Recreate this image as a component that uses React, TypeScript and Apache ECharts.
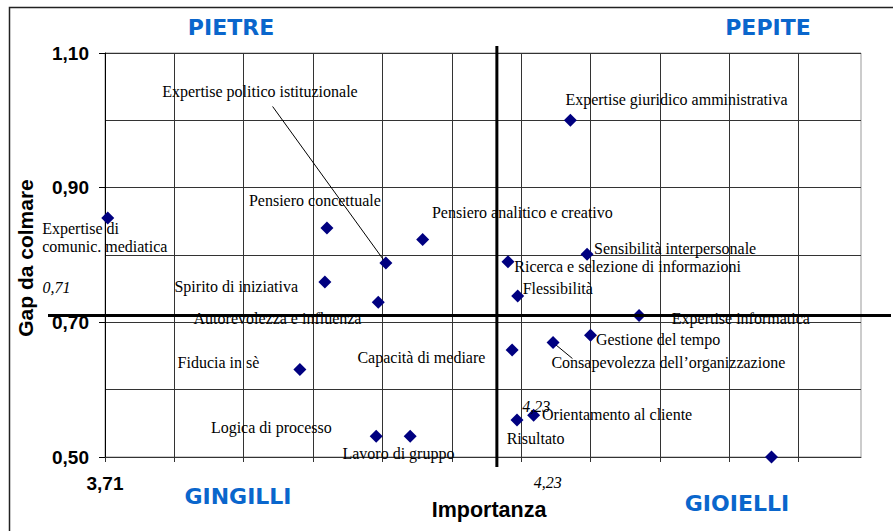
import { useEffect, useRef } from 'react';
import * as echarts from 'echarts';

// ---- data ----
const competencies = [
  'Expertise di\ncomunic. mediatica',
  'Pensiero concettuale',
  'Expertise politico istituzionale',
  'Pensiero analitico e creativo',
  'Expertise giuridico amministrativa',
  'Sensibilità interpersonale',
  'Ricerca e selezione di informazioni',
  'Spirito di iniziativa',
  'Autorevolezza e influenza',
  'Fiducia in sè',
  'Capacità di mediare',
  'Logica di processo',
  'Lavoro di gruppo',
  'Flessibilità',
  'Expertise informatica',
  'Gestione del tempo',
  'Consapevolezza dell\u2019organizzazione',
  'Orientamento al cliente',
  'Risultato',
  '',
];
const importance = [
  3.714, 4.03, 4.115, 4.168, 4.381, 4.405, 4.291, 4.027, 4.104, 3.991,
  4.297, 4.101, 4.15, 4.305, 4.48, 4.41, 4.356, 4.328, 4.304, 4.671,
];
const gap = [
  0.855, 0.84, 0.788, 0.823, 1.0, 0.801, 0.79, 0.76, 0.73, 0.63,
  0.659, 0.531, 0.531, 0.739, 0.71, 0.681, 0.67, 0.562, 0.555, 0.5,
];
const dividerImportance = 4.275; // where the vertical divider is drawn
const dividerGap = 0.71;
const dividerImportanceLabel = '4,23';
const dividerGapLabel = '0,71';
const quadrants = ['PIETRE', 'PEPITE', 'GINGILLI', 'GIOIELLI'];
const xTitle = 'Importanza';
const yTitle = 'Gap da colmare';
const xMin = 3.71;
const xMax = 4.8;
const xStep = 0.1;
const yMin = 0.5;
const yMax = 1.1;
const yStep = 0.2;

// ---- layout (label offsets from each point, px) ----
const labelOffsets: number[][] = [
  [-65.6, 19.2], [-78, -27.3], [-223.7, -171.6], [9.3, -27], [-5, -20.7],
  [7, -6], [6.3, 4.3], [-150.4, 4.3], [-184.7, 16.3], [-122.3, -6.6],
  [-154.7, 7.3], [-165.3, -9], [-67.7, 17.6], [5, -7.7], [32.7, 2.6],
  [5.4, 4.7], [-1.6, 20.4], [8.4, -1], [-10.3, 19], [0, 0],
];
const leaderIdx = [2, 16];
const leaderEnds: number[][] = [[-113.3, -156.6], [19.4, 16]];

const fmt = (v: number) => v.toFixed(2).replace('.', ',');
const BLUE = '#0A66CC';
const SERIF = '"Liberation Serif", "Times New Roman", serif';
const SANS = '"Liberation Sans", Arial, sans-serif';
const QFONT = 'bold 22px "DejaVu Sans", Verdana, sans-serif';

export default function App() {
  const ref = useRef<HTMLDivElement>(null);
  useEffect(() => {
    if (!ref.current) return;
    const chart = echarts.init(ref.current, undefined, { renderer: 'svg' });
    const xTicks: number[] = [];
    for (let v = xMin; v < xMax - 1e-9; v += xStep) xTicks.push(Math.round(v * 1000) / 1000);

    const option: any = {
      animation: false,
      backgroundColor: '#fff',
      grid: { left: 105, top: 53, width: 756, height: 404, show: true, borderColor: '#999', borderWidth: 1 },
      xAxis: {
        type: 'value', min: xMin, max: xMax, interval: xStep,
        axisLine: { show: true, lineStyle: { color: '#333', width: 1 } },
        axisTick: { show: true, length: 5, lineStyle: { color: '#333' }, customValues: xTicks },
        axisLabel: {
          margin: 17, color: '#000', fontFamily: SANS, fontWeight: 'bold', fontSize: 19,
          formatter: (v: number) => (Math.abs(v - xMin) < 1e-6 ? fmt(v) : ''),
        },
        splitLine: { show: true, lineStyle: { color: '#333', width: 1 } },
      },
      yAxis: {
        type: 'value', min: yMin, max: yMax, interval: yStep,
        axisLine: { show: true, lineStyle: { color: '#000', width: 1 } },
        axisTick: { show: true, length: 6, lineStyle: { color: '#000' } },
        axisLabel: { margin: 16, color: '#000', fontFamily: SANS, fontWeight: 'bold', fontSize: 19, formatter: (v: number) => fmt(v) },
        splitLine: { show: true, lineStyle: { color: '#333', width: 1 } },
        minorTick: { show: false, splitNumber: 2 },
        minorSplitLine: { show: true, lineStyle: { color: '#333', width: 1 } },
      },
      graphic: [
        { type: 'rect', left: 7, top: 5, shape: { x: 0, y: 0, width: 1000, height: 600 }, style: { fill: 'none', stroke: '#222', lineWidth: 1.5 }, silent: true },
        { type: 'text', x: 231, y: 27, style: { text: quadrants[0], font: QFONT, fill: BLUE, align: 'center', verticalAlign: 'middle' } },
        { type: 'text', x: 768, y: 27, style: { text: quadrants[1], font: QFONT, fill: BLUE, align: 'center', verticalAlign: 'middle' } },
        { type: 'text', x: 238, y: 496, style: { text: quadrants[2], font: QFONT, fill: BLUE, align: 'center', verticalAlign: 'middle' } },
        { type: 'text', x: 737, y: 503, style: { text: quadrants[3], font: QFONT, fill: BLUE, align: 'center', verticalAlign: 'middle' } },
        { type: 'text', x: 489, y: 510, style: { text: xTitle, font: 'bold 21.5px ' + SANS, fill: '#000', align: 'center', verticalAlign: 'middle' } },
        { type: 'text', x: 25, y: 258, rotation: Math.PI / 2, style: { text: yTitle, font: 'bold 21px ' + SANS, fill: '#000', align: 'center', verticalAlign: 'middle' } },
      ],
      series: [
        {
          type: 'custom',
          coordinateSystem: 'cartesian2d',
          clip: false,
          z: 1,
          silent: true,
          data: leaderIdx.map((i) => [importance[i], gap[i]]),
          renderItem: (params: any, api: any) => {
            const p = api.coord([api.value(0), api.value(1)]);
            const e = leaderEnds[params.dataIndex];
            return {
              type: 'line',
              shape: { x1: p[0], y1: p[1], x2: p[0] + e[0], y2: p[1] + e[1] },
              style: { stroke: '#000', lineWidth: 1 },
            };
          },
        },
        {
          type: 'scatter',
          z: 2,
          clip: false,
          symbol: 'diamond',
          symbolSize: 13,
          itemStyle: { color: '#000080', opacity: 1 },
          label: {
            show: true, formatter: '{b}', align: 'left', verticalAlign: 'middle',
            fontFamily: SERIF, fontSize: 16, lineHeight: 18, color: '#000',
          },
          data: competencies.map((name, i) => ({
            name,
            value: [importance[i], gap[i]],
            label: name
              ? { show: true, position: [labelOffsets[i][0] + 6.5, labelOffsets[i][1] + 6.5] }
              : { show: false },
          })),
        },
        {
          type: 'custom',
          coordinateSystem: 'cartesian2d',
          clip: false,
          z: 5,
          silent: true,
          data: [[dividerImportance, dividerGap]],
          renderItem: (params: any, api: any) => {
            const c = api.coord([api.value(0), api.value(1)]);
            const top = api.coord([api.value(0), yMax]);
            const bottom = api.coord([api.value(0), yMin]);
            const left = api.coord([xMin, api.value(1)]);
            const right = api.coord([xMax, api.value(1)]);
            const italic = 'italic 16px ' + SERIF;
            return {
              type: 'group',
              children: [
                { type: 'line', shape: { x1: c[0], y1: top[1] - 7, x2: c[0], y2: bottom[1] + 10 }, style: { stroke: '#000', lineWidth: 3 } },
                { type: 'line', shape: { x1: left[0] - 57, y1: c[1], x2: right[0] + 30, y2: c[1] }, style: { stroke: '#000', lineWidth: 3 } },
                { type: 'text', x: left[0] - 62.5, y: c[1] - 28.5, style: { text: dividerGapLabel, font: italic, fill: '#000', align: 'left', verticalAlign: 'middle' } },
                { type: 'text', x: c[0] + 51, y: bottom[1] + 25, style: { text: dividerImportanceLabel, font: italic, fill: '#000', align: 'center', verticalAlign: 'middle' } },
                { type: 'text', x: c[0] + 39.5, y: bottom[1] - 51, style: { text: dividerImportanceLabel, font: italic, fill: '#000', align: 'center', verticalAlign: 'middle' } },
              ],
            };
          },
        },
      ],
    };
    chart.setOption(option);
    return () => chart.dispose();
  }, []);
  return <div ref={ref} style={{ position: 'fixed', left: 0, top: 0, width: 893, height: 531 }} />;
}
